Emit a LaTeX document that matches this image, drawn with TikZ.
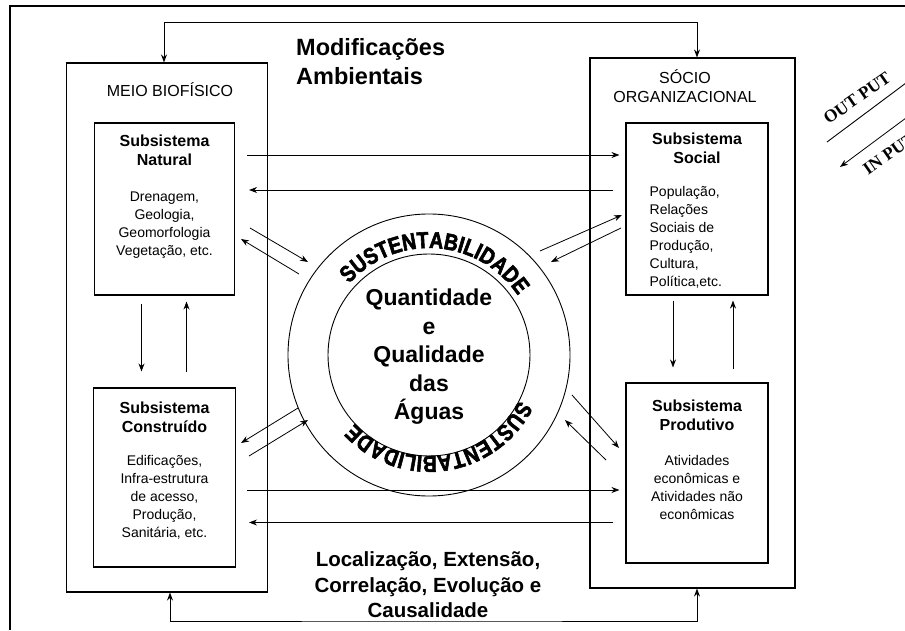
\documentclass[tikz,border=0pt]{standalone}
\usepackage{fontspec}
\setmainfont{Liberation Sans}
\newfontfamily\legenda{Liberation Serif}
\newfontfamily\pesado{Liberation Sans Bold}[FakeBold=2.5, FakeStretch=0.84]
\usetikzlibrary{arrows.meta, decorations.text, positioning}
\tikzstyle{caixa} = [rectangle, draw=black, line width=1.1pt, inner sep=0pt]
\tikzstyle{titulo} = [align=center, inner sep=0pt, font=\fontsize{16}{19}\selectfont\bfseries]
\tikzstyle{corpo} = [align=center, inner sep=0pt, font=\fontsize{14}{18}\selectfont]
\tikzstyle{arrow} = [line width=0.8pt, -{Stealth[length=8pt,width=6pt]}]
\tikzstyle{setas} = [line width=1pt, {Stealth[length=8pt,width=6pt]}-{Stealth[length=8pt,width=6pt]}]

\begin{document}
\begin{tikzpicture}[x=1pt, y=1pt]
        \useasboundingbox (0,0) rectangle (905,630);
        \draw [line width=1.2pt] (10,0) -- (10,624) -- (905,624);

        % meios
        \node (biofisico) [caixa, minimum width=201pt, minimum height=529pt] at (167,302.5) {};
        \node (socio) [caixa, minimum width=205pt, minimum height=530pt] at (692.5,307) {};
        \node (biofisico-tit) [font=\fontsize{16}{19}\selectfont, inner sep=0pt] at (170,540.5) {MEIO BIOFÍSICO};
        \node (socio-tit) [font=\fontsize{16}{19}\selectfont, align=center, inner sep=0pt] at (685,543.5) {SÓCIO\\ORGANIZACIONAL};

        % subsistemas
        \node (natural) [caixa, minimum width=140pt, minimum height=172pt] at (164.5,421) {};
        \node (construido) [caixa, minimum width=142pt, minimum height=179pt] at (164.5,152.5) {};
        \node (social) [caixa, minimum width=142pt, minimum height=172pt] at (697,421) {};
        \node (produtivo) [caixa, minimum width=142pt, minimum height=180pt] at (697,157) {};

        \node (natural-tit) [titulo, anchor=north] at ([yshift=-12pt]natural.north) {Subsistema\\Natural};
        \node (natural-txt) [corpo, below=26pt of natural-tit] {Drenagem,\\Geologia,\\Geomorfologia\\Vegetação, etc.};
        \node (construido-tit) [titulo, anchor=north] at ([yshift=-14pt]construido.north) {Subsistema\\Construído};
        \node (construido-txt) [corpo, below=23pt of construido-tit] {Edificações,\\Infra-estrutura\\de acesso,\\Produção,\\Sanitária, etc.};
        \node (social-tit) [titulo, anchor=north] at ([yshift=-10pt]social.north) {Subsistema\\Social};
        \node (social-txt) [corpo, align=left, anchor=north west] at ([xshift=24pt, yshift=-23pt]social.west |- social-tit.south) {População,\\Relações\\Sociais de\\Produção,\\Cultura,\\Política,etc.};
        \node (produtivo-tit) [titulo, anchor=north] at ([yshift=-17pt]produtivo.north) {Subsistema\\Produtivo};
        \node (produtivo-txt) [corpo, below=25pt of produtivo-tit] {Atividades\\econômicas e\\Atividades não\\econômicas};

        % aguas
        \node (anel) [circle, draw, line width=0.9pt, minimum size=282pt] at (429,275) {};
        \node (nucleo) [circle, draw, line width=0.9pt, minimum size=202pt] at (429,275) {};
        \node (aguas) [align=center, font=\fontsize{23}{28.5}\selectfont\bfseries] at (429,273) {Quantidade\\e\\Qualidade\\das\\Águas};
        \path [decorate, decoration={text along path, text align=center, text={|\pesado\fontsize{23}{23}\selectfont|SUSTENTABILIDADE}}] ([shift={(146:107pt)}]anel.center) arc[start angle=146, end angle=26, radius=107pt];
        \path [decorate, decoration={text along path, text align=center, text={|\pesado\fontsize{23}{23}\selectfont|SUSTENTABILIDADE}}] ([shift={(-20:101pt)}]anel.center) arc[start angle=-20, end angle=-144, radius=101pt];

        \node (modificacoes) [align=left, anchor=north west, inner sep=0pt, font=\fontsize{23.5}{29}\selectfont\bfseries] at (296,592) {Modificações\\Ambientais};
        \node (localizacao) [align=center, font=\fontsize{20.5}{25.5}\selectfont\bfseries] at (428,45) {Localização, Extensão,\\Correlação, Evolução e\\Causalidade};

        % ligacoes
        \coordinate (topo) at (430,607.5);
        \coordinate (base) at (430,9);
        \draw [setas] ([xshift=-3pt]biofisico.north) |- (topo) -| ([xshift=4.5pt]socio.north);
        \draw [setas] ([xshift=3pt]biofisico.south) |- (base) -| ([xshift=4.5pt]socio.south);

        \draw [arrow, shorten <=12pt, shorten >=6pt] ([yshift=54pt]natural.east) -- ([yshift=54pt]natural.east -| social.west);
        \draw [arrow, shorten <=12pt, shorten >=14pt] ([yshift=19pt]social.west) -- ([yshift=19pt]social.west -| natural.east);
        \draw [arrow, shorten <=11pt, shorten >=6pt] ([yshift=-12.5pt]construido.east) -- ([yshift=-12.5pt]construido.east -| produtivo.west);
        \draw [arrow, shorten <=12pt, shorten >=13pt] ([yshift=-49.5pt]produtivo.west) -- ([yshift=-49.5pt]produtivo.west -| construido.east);

        \draw [arrow, shorten <=8pt, shorten >=16pt] ([xshift=-23pt]natural.south) -- ([xshift=-23pt]construido.north);
        \draw [arrow, shorten <=15pt, shorten >=6pt] ([xshift=22pt]construido.north) -- ([xshift=22pt]natural.south);
        \draw [arrow, shorten <=5pt, shorten >=15pt] ([xshift=-24pt]social.south) -- ([xshift=-24pt]produtivo.north);
        \draw [arrow, shorten <=13pt, shorten >=5pt] ([xshift=36pt]produtivo.north) -- ([xshift=36pt]social.south);

        \draw [arrow] (250,402) -- (308,368);
        \draw [arrow] (299,356) -- (241,391);
        \draw [arrow] (298,222) -- (241,187);
        \draw [arrow] (249,174) -- (308,210);
        \draw [arrow] (540,379) -- (622,415);
        \draw [arrow] (621,402) -- (551,368);
        \draw [arrow] (572,235) -- (619,182);
        \draw [arrow] (606,170) -- (565,210);

        % legenda
        \draw [line width=0.9pt] (827,488) -- (910,550);
        \draw [arrow] (910,515) -- (840,463);
        \node (output) [font=\legenda\fontsize{17.5}{17.5}\selectfont\bfseries, rotate=35] at (857,532) {OUT PUT};
        \node (input) [font=\legenda\fontsize{17.5}{17.5}\selectfont\bfseries, rotate=35] at (889,476) {IN PUT};
    \end{tikzpicture}
\end{document}
